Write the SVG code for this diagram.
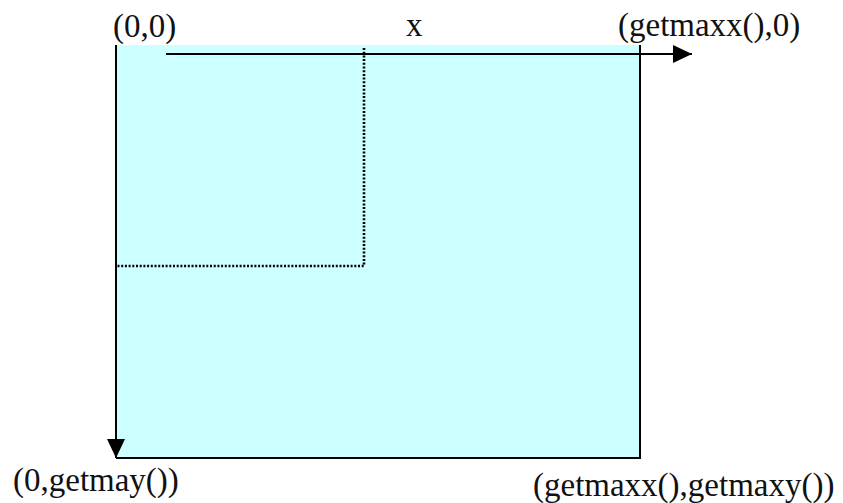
<svg xmlns="http://www.w3.org/2000/svg" width="843" height="503" viewBox="0 0 843 503">
  <style>
    .lbl { font-family: "Liberation Serif", "Times New Roman", serif; font-size: 33px; fill: #111; }
    .edge { stroke: #000; stroke-width: 2; fill: none; }
    .dot { stroke: #000; stroke-width: 2.6; fill: none; stroke-dasharray: 2 1.7; }
  </style>
  <defs>
    <marker id="arrR" markerUnits="userSpaceOnUse" markerWidth="20" markerHeight="18" refX="19" refY="9" orient="auto">
      <path d="M0,0 L19,9 L0,18 Z" fill="#000"/>
    </marker>
  </defs>
  <rect width="843" height="503" fill="#fff"/>
  <g id="screen">
    <rect x="116" y="45" width="524" height="413" fill="#CCFFFF"/>
    <path class="edge" d="M640,45 L640,458 L116,458"/>
  </g>
  <g id="region">
    <path class="dot" d="M364,48 L364,266 L117,266"/>
  </g>
  <g id="connectors">
    <line class="edge" x1="166" y1="54" x2="692" y2="54" marker-end="url(#arrR)"/>
    <line class="edge" x1="116" y1="45" x2="116" y2="458" marker-end="url(#arrR)"/>
  </g>
  <g id="labels">
    <text class="lbl" x="113" y="37">(0,0)</text>
    <text class="lbl" x="406" y="36">x</text>
    <text class="lbl" x="618" y="36">(getmaxx(),0)</text>
    <text class="lbl" x="13" y="491">(0,getmay())</text>
    <text class="lbl" x="533" y="496">(getmaxx(),getmaxy())</text>
  </g>
</svg>
